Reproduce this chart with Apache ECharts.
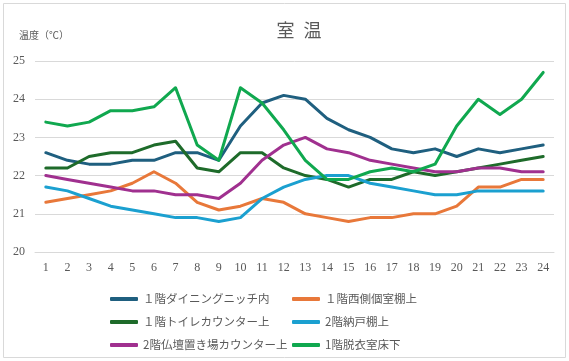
<!DOCTYPE html>
<html>
<head>
<meta charset="utf-8">
<script src="https://cdn.jsdelivr.net/npm/echarts@6/dist/echarts.min.js"></script>
<style>html,body{margin:0;padding:0;background:#fff}#c{width:569px;height:361px}</style>
</head>
<body>
<div id="c"></div>
<script>
var hours = ['1','2','3','4','5','6','7','8','9','10','11','12','13','14','15','16','17','18','19','20','21','22','23','24'];
var names = ['１階ダイニングニッチ内','１階西側個室棚上','１階トイレカウンター上','2階納戸棚上','2階仏壇置き場カウンター上','1階脱衣室床下'];
var dining   = [22.6,22.4,22.3,22.3,22.4,22.4,22.6,22.6,22.4,23.3,23.9,24.1,24.0,23.5,23.2,23.0,22.7,22.6,22.7,22.5,22.7,22.6,22.7,22.8];
var westRoom = [21.3,21.4,21.5,21.6,21.8,22.1,21.8,21.3,21.1,21.2,21.4,21.3,21.0,20.9,20.8,20.9,20.9,21.0,21.0,21.2,21.7,21.7,21.9,21.9];
var toilet   = [22.2,22.2,22.5,22.6,22.6,22.8,22.9,22.2,22.1,22.6,22.6,22.2,22.0,21.9,21.7,21.9,21.9,22.1,22.0,22.1,22.2,22.3,22.4,22.5];
var storage  = [21.7,21.6,21.4,21.2,21.1,21.0,20.9,20.9,20.8,20.9,21.4,21.7,21.9,22.0,22.0,21.8,21.7,21.6,21.5,21.5,21.6,21.6,21.6,21.6];
var altar    = [22.0,21.9,21.8,21.7,21.6,21.6,21.5,21.5,21.4,21.8,22.4,22.8,23.0,22.7,22.6,22.4,22.3,22.2,22.1,22.1,22.2,22.2,22.1,22.1];
var dressing = [23.4,23.3,23.4,23.7,23.7,23.8,24.3,22.8,22.4,24.3,23.9,23.2,22.4,21.9,21.9,22.1,22.2,22.1,22.3,23.3,24.0,23.6,24.0,24.7];
var yTicks = {min: 20, max: 25, interval: 1};

var colors = ['#1F5F7F','#E8783A','#1E6B2A','#1BA0D0','#A0308F','#10A84F'];
var allData = [dining, westRoom, toilet, storage, altar, dressing];
var textColor = '#595959';
var numFont = 'Liberation Serif';
var jpFont = 'Noto Sans CJK JP';

var series = allData.map(function (d, i) {
  return {
    name: names[i], type: 'line', data: d, symbol: 'none', smooth: false,
    lineStyle: {width: 3, color: colors[i], cap: 'round', join: 'round'},
    itemStyle: {color: colors[i]}
  };
});

var legendCommon = {
  orient: 'vertical', top: 287, itemWidth: 28, itemHeight: 4, icon: 'roundRect',
  itemGap: 9, textStyle: {color: textColor, fontSize: 11.5, fontFamily: jpFont, lineHeight: 14}
};

var chart = echarts.init(document.getElementById('c'), null, {renderer: 'canvas'});
chart.setOption({
  animation: false,
  color: colors,
  title: {
    text: '室\u2002温', left: 294, top: 16, textAlign: 'center',
    textStyle: {color: textColor, fontSize: 18, fontWeight: 'normal', fontFamily: jpFont}
  },
  graphic: [{
    type: 'rect', shape: {x: 3.5, y: 3.5, width: 562, height: 354},
    style: {fill: 'none', stroke: '#D9D9D9', lineWidth: 1}, silent: true, z: -1
  }],
  legend: [
    Object.assign({left: 105, data: [names[0], names[2], names[4]]}, legendCommon),
    Object.assign({left: 287, data: [names[1], names[3], names[5]]}, legendCommon)
  ],
  grid: {left: 35, right: 15, top: 61, bottom: 109, containLabel: false},
  xAxis: {
    type: 'category', data: hours, boundaryGap: true,
    axisLine: {show: true, lineStyle: {color: '#D9D9D9', width: 1}},
    axisTick: {show: false},
    axisLabel: {color: textColor, fontSize: 12, fontFamily: numFont, margin: 10, interval: 0}
  },
  yAxis: {
    type: 'value', min: yTicks.min, max: yTicks.max, interval: yTicks.interval,
    name: '温度（℃）', nameLocation: 'end', nameGap: 21,
    nameTextStyle: {color: textColor, fontSize: 10, fontFamily: jpFont, align: 'left', padding: [0, 0, 0, -16]},
    axisLine: {show: false}, axisTick: {show: false},
    splitLine: {lineStyle: {color: '#D9D9D9', width: 1}},
    axisLabel: {color: textColor, fontSize: 12, fontFamily: numFont, margin: 10}
  },
  series: series
});
</script>
</body>
</html>
